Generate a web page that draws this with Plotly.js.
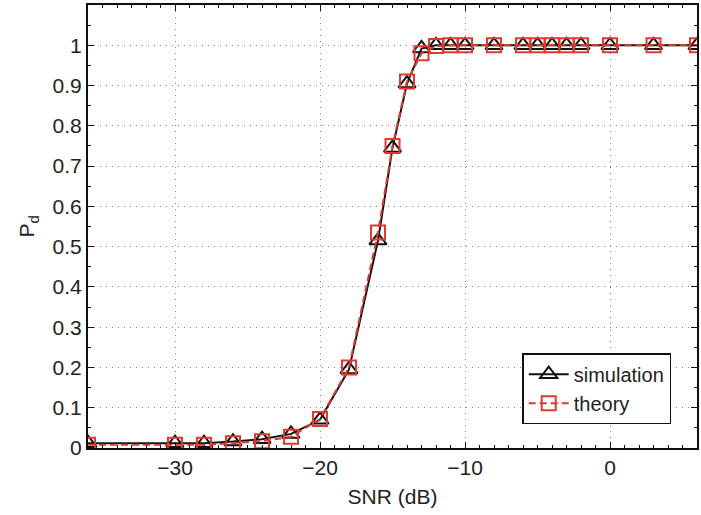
<!DOCTYPE html>
<html><head><meta charset="utf-8">
<script src="https://cdn.plot.ly/plotly-3.0.1.min.js"></script>
<style>body{margin:0;padding:0;background:#fff}#chart{width:701px;height:515px}</style>
</head><body><div id="chart"></div>
<script>
const snr = [-36,-30,-28,-26,-24,-22,-20,-18,-16,-15,-14,-13,-12,-11,-10,-8,-6,-5,-4,-3,-2,0,3,6];
const simulation = [0.012,0.012,0.012,0.016,0.022,0.035,0.07,0.195,0.515,0.745,0.905,0.992,1,1,1,1,1,1,1,1,1,1,1,1];
const theory = [0.008,0.008,0.008,0.012,0.017,0.028,0.072,0.2,0.535,0.75,0.91,0.98,0.998,1,1,1,1,1,1,1,1,1,1,1];
const xTicks = [-30,-20,-10,0];
const yTicks = [0,0.1,0.2,0.3,0.4,0.5,0.6,0.7,0.8,0.9,1];

const FONT = 'Liberation Sans, Arial, sans-serif';

const traces = [
  {x: snr, y: simulation, name: 'simulation', mode: 'lines+markers',
   line: {color: '#111', width: 2},
   marker: {symbol: 'triangle-up-open', size: 15, color: '#111', line: {width: 2, color: '#111'}}},
  {x: snr, y: theory, name: 'theory', mode: 'lines+markers',
   line: {color: '#e03a2e', width: 2, dash: '7px,4px'},
   marker: {symbol: 'square-open', size: 14, color: '#e03a2e', line: {width: 2, color: '#e03a2e'}}}
];

function axis(extra) {
  return Object.assign({
    showline: true, linecolor: '#111', linewidth: 2, mirror: 'allticks',
    ticks: 'inside', ticklen: 6, tickcolor: '#111', tickwidth: 1,
    showgrid: true, gridcolor: '#8a8a8a', griddash: '1px,5px', gridwidth: 1,
    zeroline: false,
    tickfont: {family: FONT, size: 21, color: '#222'}
  }, extra);
}

const layout = {
  width: 701, height: 515,
  margin: {l: 88, r: 4, t: 5, b: 67},
  paper_bgcolor: '#fff', plot_bgcolor: '#fff',
  font: {family: FONT, size: 20, color: '#222'},
  xaxis: axis({
    range: [-36, 6], tickmode: 'array', tickvals: xTicks,
    ticktext: xTicks.map(v => v < 0 ? '\u2212' + Math.abs(v) : String(v)),
    minor: {dtick: 1, ticks: 'inside', ticklen: 3, tickcolor: '#111', showgrid: false},
    title: {text: 'SNR (dB)', font: {family: FONT, size: 21, color: '#222'}, standoff: 11}
  }),
  yaxis: axis({
    range: [0, 1.1], tickmode: 'array', tickvals: yTicks,
    ticktext: yTicks.map(v => String(v)),
    minor: {dtick: 0.05, ticks: 'inside', ticklen: 3, tickcolor: '#111', showgrid: false},
    title: {text: 'P<sub>d</sub>', font: {family: FONT, size: 21, color: '#222'}, standoff: 12}
  }),
  showlegend: true,
  legend: {x: 0.713, y: 0.214, xanchor: 'left', yanchor: 'top',
    bgcolor: '#fff', bordercolor: '#111', borderwidth: 1.5,
    font: {family: FONT, size: 20, color: '#222'}, tracegroupgap: 0, itemwidth: 40}
};

Plotly.newPlot('chart', traces, layout, {displayModeBar: false, staticPlot: true});
</script></body></html>
